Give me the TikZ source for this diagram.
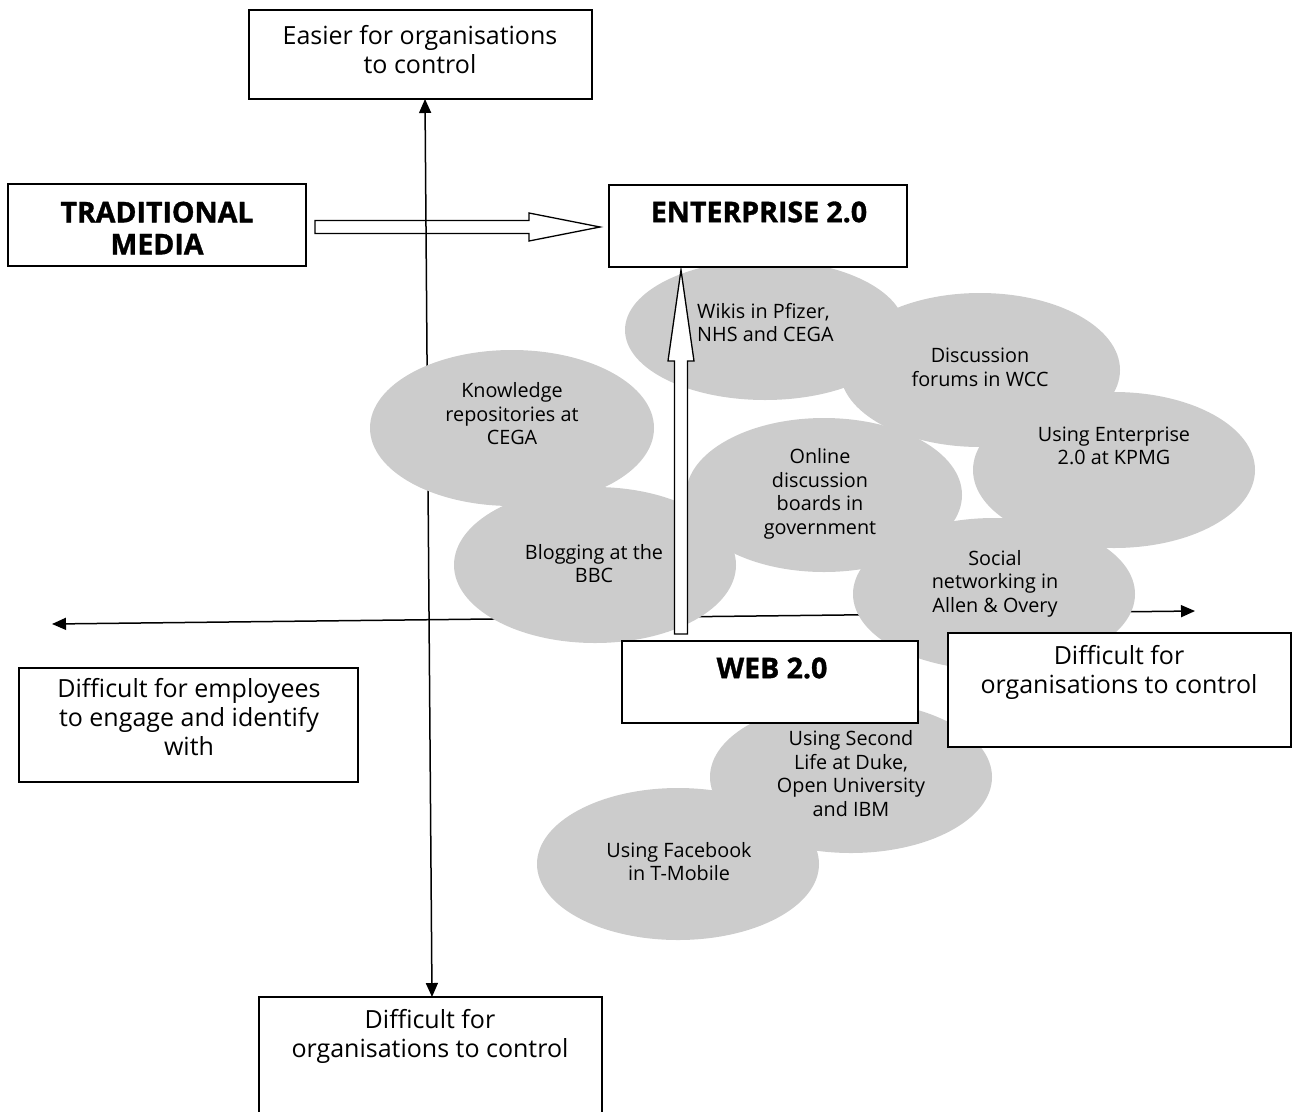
\documentclass[tikz,border=0pt]{standalone}
\usepackage{fontspec}
\setmainfont{Open Sans}
\newfontfamily\heavyfont{Open Sans Bold}[FakeBold=1.2]
\usetikzlibrary{arrows.meta}
\begin{document}
\begin{tikzpicture}[x=1pt,y=-1pt,
  box/.style={draw, line width=1.5pt, fill=white, inner sep=0pt, outer sep=0pt},
  bigtext/.style={font=\fontsize{25}{29}\selectfont, align=center, inner sep=0pt},
  boldtext/.style={font=\fontsize{28.5}{32}\selectfont\heavyfont, align=center, inner sep=0pt},
  blob/.style={fill=black!20, draw=none},
  blobtext/.style={font=\fontsize{19.8}{23.5}\selectfont, align=center, inner sep=0pt},
  axis/.style={line width=1.5pt, {Triangle[length=14pt,width=12pt]}-{Triangle[length=14pt,width=12pt]}},
  hollow/.style={draw, line width=1.3pt, line join=miter}
]
\useasboundingbox (0,0) rectangle (1292,1111);

% axes
\coordinate (vt) at (425,99);
\coordinate (vb) at (432,997);
\coordinate (hl) at (52,624);
\coordinate (hr) at (1195,611);
\draw[axis] (vt) -- (vb);
\draw[axis] (hl) -- (hr);

% traditional -> enterprise hollow arrow
\draw[hollow] (315,220.5) -- (529,220.5) -- (529,213) -- (600,227) -- (529,241) -- (529,233.5) -- (315,233.5) -- cycle;

% ellipses
\fill[blob] (765,330) ellipse [x radius=140, y radius=70];
\fill[blob] (980,370) ellipse [x radius=140, y radius=77];
\fill[blob] (1114,470) ellipse [x radius=141, y radius=78];
\fill[blob] (512,428) ellipse [x radius=142, y radius=78];
\fill[blob] (824,495) ellipse [x radius=138, y radius=77];
\fill[blob] (595,565) ellipse [x radius=141, y radius=78];
\fill[blob] (994,594) ellipse [x radius=141, y radius=76];
\fill[blob] (851,777) ellipse [x radius=141, y radius=76];
\fill[blob] (678,864) ellipse [x radius=141, y radius=76];

\node[blobtext, anchor=west, align=left] (wikis) at (697,322.5) {Wikis in Pfizer,\\NHS and CEGA};
\node[blobtext] (forums) at (980,367.5) {Discussion\\forums in WCC};
\node[blobtext] (kpmg) at (1114,446) {Using Enterprise\\2.0 at KPMG};
\node[blobtext] (know) at (512,414) {Knowledge\\repositories at\\CEGA};
\node[blobtext] (online) at (820,494) {Online\\discussion\\boards in\\government};
\node[blobtext] (blog) at (594,563.5) {Blogging at the\\BBC};
\node[blobtext] (social) at (995,583.5) {Social\\networking in\\Allen \& Overy};
\node[blobtext] (second) at (851,773.5) {Using Second\\Life at Duke,\\Open University\\and IBM};
\node[blobtext] (facebook) at (679,861.5) {Using Facebook\\in T-Mobile};

% web -> enterprise hollow arrow
\draw[hollow, fill=white] (674.5,634) -- (674.5,361) -- (668,361) -- (681,270) -- (694,361) -- (687.5,361) -- (687.5,634) -- cycle;

% boxes
\node[box, minimum width=343, minimum height=89] (topbox) at (420.5,54.5) {};
\node[bigtext] (toptext) at (420,49.5) {Easier for organisations\\to control};

\node[box, minimum width=298, minimum height=82] (trad) at (157,225) {};
\node[boldtext] (tradtext) at (157,228) {TRADITIONAL\\MEDIA};

\node[box, minimum width=298, minimum height=82] (ent) at (758,226) {};
\node[boldtext] (enttext) at (759,212) {ENTERPRISE 2.0};

\node[box, minimum width=296, minimum height=82] (web) at (770,682) {};
\node[boldtext] (webtext) at (772,668) {WEB 2.0};

\node[box, minimum width=343, minimum height=114] (rightbox) at (1119.5,690) {};
\node[bigtext] (righttext) at (1119,672.5) {Difficult for\\organisations to control};

\node[box, minimum width=339, minimum height=114] (leftbox) at (188.5,725) {};
\node[bigtext] (lefttext) at (189,717.5) {Difficult for employees\\to engage and identify\\with};

\node[box, minimum width=343, minimum height=122] (botbox) at (430.5,1058) {};
\node[bigtext] (bottext) at (430,1036.5) {Difficult for\\organisations to control};
\end{tikzpicture}
\end{document}
